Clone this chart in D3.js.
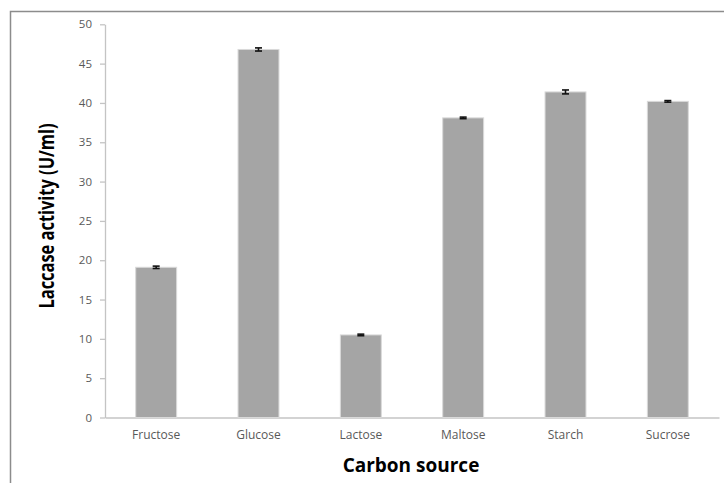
<!DOCTYPE html>
<html>
<head>
<meta charset="utf-8">
<script src="https://cdn.jsdelivr.net/npm/d3@7"></script>
<style>
  html, body { margin: 0; padding: 0; background: #fff; }
  svg { display: block; }
</style>
</head>
<body>
<svg id="chart" width="724" height="483"></svg>
<script>
// Laccase activity by carbon source, with standard error bars
const categories = ["Fructose", "Glucose", "Lactose", "Maltose", "Starch", "Sucrose"];
const activity = [19.1, 46.8, 10.5, 38.1, 41.4, 40.2];
const errors = [0.15, 0.2, 0.1, 0.1, 0.25, 0.1];
const yTicks = [0, 5, 10, 15, 20, 25, 30, 35, 40, 45, 50];

const svg = d3.select("#chart");
const plotLeft = 105, plotRight = 719, plotTop = 24.3, plotBottom = 417.5;

const x = d3.scaleBand()
  .domain(categories)
  .range([plotLeft, plotRight])
  .paddingInner(0.6)
  .paddingOuter(0.3);

const y = d3.scaleLinear().domain([0, 50]).range([plotBottom, plotTop]);

// outer frame
svg.append("path")
  .attr("d", "M10.5,483 V11.5 H724")
  .attr("fill", "none")
  .attr("stroke", "#8c8c8c")
  .attr("stroke-width", 1.5);

// y axis
const yAxis = svg.append("g")
  .attr("transform", `translate(${plotLeft},0)`)
  .call(d3.axisLeft(y).tickValues(yTicks).tickSize(5).tickPadding(8).tickSizeOuter(0));
yAxis.select(".domain").attr("stroke", "#c4c4c4").attr("stroke-width", 1.3);
yAxis.selectAll(".tick line").attr("stroke", "#c4c4c4").attr("stroke-width", 1.3);
yAxis.selectAll(".tick text")
  .attr("fill", "#595959")
  .style("font-family", "'Open Sans', sans-serif")
  .style("font-size", "11.5px");

// x axis
const xAxis = svg.append("g")
  .attr("transform", `translate(0,${plotBottom})`)
  .call(d3.axisBottom(x).tickSize(0).tickPadding(13).tickSizeOuter(0));
xAxis.select(".domain").attr("stroke", "#c4c4c4").attr("stroke-width", 1.5);
xAxis.selectAll(".tick text")
  .attr("fill", "#595959")
  .style("font-family", "'Open Sans', sans-serif")
  .style("font-size", "12px");

const data = categories.map((c, i) => ({ c, v: activity[i], e: errors[i] }));

// bars
svg.append("g").selectAll("rect")
  .data(data)
  .join("rect")
  .attr("x", d => x(d.c))
  .attr("y", d => y(d.v))
  .attr("width", x.bandwidth())
  .attr("height", d => y(0) - y(d.v))
  .attr("fill", "#a5a5a5")
  .attr("stroke", "#d9d9d9")
  .attr("stroke-width", 1);

// error bars
const eb = svg.append("g").attr("stroke", "#111").attr("stroke-width", 1.6);
data.forEach(d => {
  const cx = x(d.c) + x.bandwidth() / 2;
  const y1 = y(d.v + d.e), y2 = y(d.v - d.e);
  eb.append("line").attr("x1", cx).attr("x2", cx).attr("y1", y1).attr("y2", y2);
  eb.append("line").attr("x1", cx - 3.5).attr("x2", cx + 3.5).attr("y1", y1).attr("y2", y1);
  eb.append("line").attr("x1", cx - 3.5).attr("x2", cx + 3.5).attr("y1", y2).attr("y2", y2);
});

// axis titles
svg.append("text")
  .attr("transform", "translate(54,216) rotate(-90)")
  .attr("text-anchor", "middle")
  .attr("textLength", 185)
  .attr("lengthAdjust", "spacingAndGlyphs")
  .style("font-family", "'Open Sans', sans-serif")
  .style("font-weight", "bold")
  .style("font-size", "21px")
  .attr("fill", "#000")
  .text("Laccase activity (U/ml)");

svg.append("text")
  .attr("x", 411)
  .attr("y", 472)
  .attr("text-anchor", "middle")
  .style("font-family", "'Open Sans', sans-serif")
  .style("font-weight", "bold")
  .style("font-size", "19px")
  .attr("fill", "#000")
  .text("Carbon source");
</script>
</body>
</html>
